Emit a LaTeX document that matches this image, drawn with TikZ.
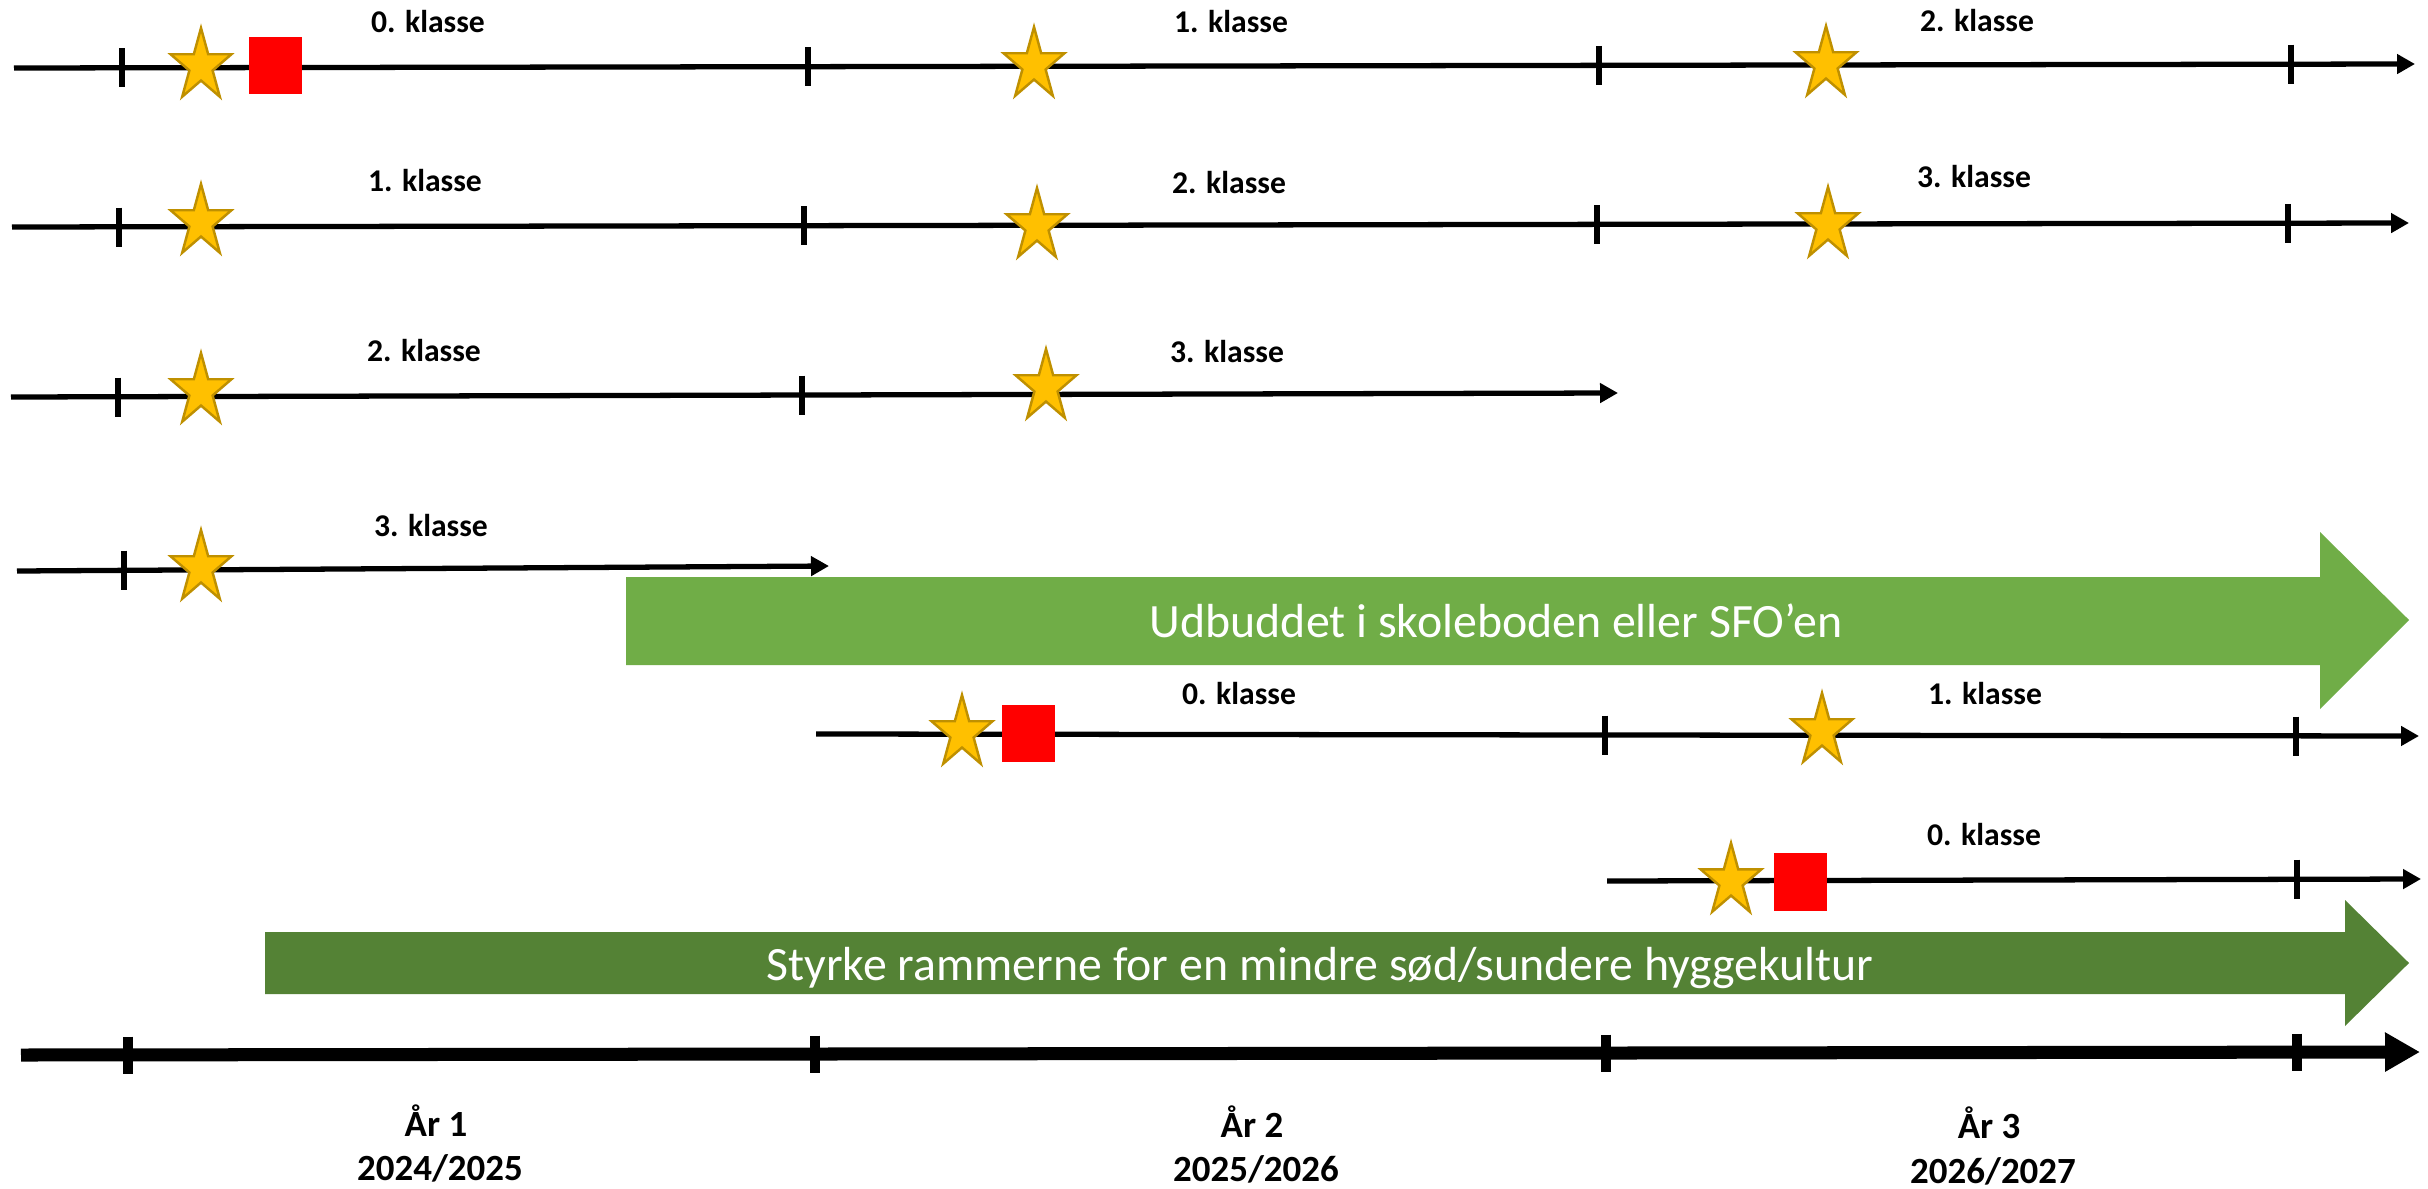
\documentclass[tikz,border=0pt]{standalone}
\usepackage{fontspec}
\setmainfont{Carlito}
\usetikzlibrary{arrows.meta}
\definecolor{gold}{HTML}{FFC000}
\definecolor{goldline}{HTML}{BF9000}
\definecolor{lgreen}{HTML}{70AD47}
\definecolor{dgreen}{HTML}{548235}
\definecolor{mred}{HTML}{FF0000}
\tikzset{
  gstar/.pic={\draw[fill=gold,draw=goldline,line width=0.7pt,xscale=32,yscale=38]
    (0,-1) -- (0.2245,-0.309) -- (0.951,-0.309) -- (0.3633,0.118) -- (0.5878,0.809)
    -- (0,0.382) -- (-0.5878,0.809) -- (-0.3633,0.118) -- (-0.951,-0.309)
    -- (-0.2245,-0.309) -- cycle;},
  tl/.style={line width=1.5pt},
  tlarrow/.style={line width=1.5pt,-{Triangle[length=0.18cm,width=0.19cm]}},
  tk/.style={line width=1.5pt},
  axisline/.style={line width=3.7pt,-{Triangle[length=0.35cm,width=0.37cm]}},
  axtk/.style={line width=3.1pt},
  klasse/.style={font=\bfseries\fontsize{9}{11}\selectfont,inner sep=0pt,anchor=base},
  yr/.style={font=\bfseries\fontsize{10.5}{12}\selectfont,inner sep=0pt,anchor=base},
  bandtext/.style={font=\fontsize{13.6}{16}\selectfont,text=white,inner sep=0pt,anchor=base},
  redbox/.style={fill=mred}
}
\begin{document}
\begin{tikzpicture}[x=0.01cm,y=-0.01cm]
\useasboundingbox[fill=white] (0,0) rectangle (2428,1188);

% green band arrows
\fill[lgreen] (626,577) -- (2320,577) -- (2320,532) -- (2409,620) -- (2320,709)
  -- (2320,665) -- (626,665) -- cycle;
\node[bandtext] (band1) at (1496,637) {Udbuddet i skoleboden eller SFO’en};
\fill[dgreen] (265,932) -- (2345,932) -- (2345,900) -- (2409,963) -- (2345,1026)
  -- (2345,994) -- (265,994) -- cycle;
\node[bandtext] (band2) at (1320,980) {Styrke rammerne for en mindre sød/sundere hyggekultur};

% Row 1
\coordinate (r1s) at (14,68); \coordinate (r1e) at (2415,64);
\draw[tlarrow] (r1s) -- (r1e);
\foreach \x/\y in {122/67.8,808/66.7,1599/65.4,2291/64.2}
  \draw[tk] (\x,\y-19.5) -- (\x,\y+19.5);
\fill[redbox] (249,37) rectangle (302,94);
\pic (s11) at (201,66) {gstar};
\pic (s12) at (1034,65) {gstar};
\pic (s13) at (1826,64) {gstar};
\node[klasse] (l11) at (428,33) {0. klasse};
\node[klasse] (l12) at (1231,33) {1. klasse};
\node[klasse] (l13) at (1977,32) {2. klasse};

% Row 2
\coordinate (r2s) at (12,227); \coordinate (r2e) at (2409,223);
\draw[tlarrow] (r2s) -- (r2e);
\foreach \x/\y in {119/227,804/225.7,1597/224.5,2288/223.3}
  \draw[tk] (\x,\y-19.5) -- (\x,\y+19.5);
\pic (s21) at (201,222) {gstar};
\pic (s22) at (1037,226) {gstar};
\pic (s23) at (1828,225) {gstar};
\node[klasse] (l21) at (425,192) {1. klasse};
\node[klasse] (l22) at (1229,193) {2. klasse};
\node[klasse] (l23) at (1974,187) {3. klasse};

% Row 3
\coordinate (r3s) at (11,397); \coordinate (r3e) at (1618,393);
\draw[tlarrow] (r3s) -- (r3e);
\foreach \x/\y in {118/397,802/395}
  \draw[tk] (\x,\y-19.5) -- (\x,\y+19.5);
\pic (s31) at (201,391) {gstar};
\pic (s32) at (1046,387) {gstar};
\node[klasse] (l31) at (424,361) {2. klasse};
\node[klasse] (l32) at (1227,362) {3. klasse};

% Row 4
\coordinate (r4s) at (17,571); \coordinate (r4e) at (829,566);
\draw[tlarrow] (r4s) -- (r4e);
\draw[tk] (124,570-19.5) -- (124,570+19.5);
\pic (s41) at (201,568) {gstar};
\node[klasse] (l41) at (431,536) {3. klasse};

% Row 5
\coordinate (r5s) at (816,734); \coordinate (r5e) at (2419,736);
\draw[tlarrow] (r5s) -- (r5e);
\foreach \x/\y in {1605/735,2296/736}
  \draw[tk] (\x,\y-19.5) -- (\x,\y+19.5);
\pic (s51) at (962,733) {gstar};
\fill[redbox] (1002,705) rectangle (1055,762);
\pic (s52) at (1822,731) {gstar};
\node[klasse] (l51) at (1239,704) {0. klasse};
\node[klasse] (l52) at (1985,704) {1. klasse};

% Row 6
\coordinate (r6s) at (1607,881); \coordinate (r6e) at (2421,879);
\draw[tlarrow] (r6s) -- (r6e);
\draw[tk] (2297,879-19.5) -- (2297,879+19.5);
\pic (s61) at (1731,881) {gstar};
\fill[redbox] (1774,853) rectangle (1827,911);
\node[klasse] (l61) at (1984,845) {0. klasse};

% Bottom axis
\coordinate (axs) at (21,1055); \coordinate (axe) at (2420,1052);
\draw[axisline] (axs) -- (axe);
\foreach \x/\y in {128/1055,815/1054,1606/1053,2297/1052}
  \draw[axtk] (\x,\y-18.5) -- (\x,\y+18.5);
\node[yr] (y1a) at (436,1136) {År 1};
\node[yr] (y1b) at (440,1180) {2024/2025};
\node[yr] (y2a) at (1252,1137) {År 2};
\node[yr] (y2b) at (1256,1181) {2025/2026};
\node[yr] (y3a) at (1989,1138) {År 3};
\node[yr] (y3b) at (1993,1183) {2026/2027};
\end{tikzpicture}
\end{document}
